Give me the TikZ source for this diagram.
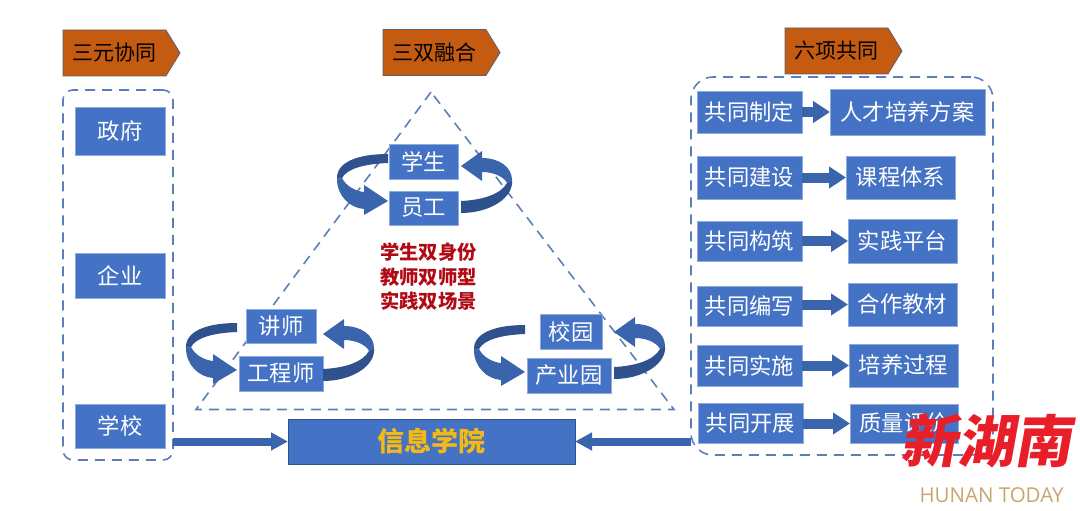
\documentclass[tikz,border=0pt]{standalone}
\usepackage{xcolor}
\usepackage{fontspec}
\usepackage{tikz}
\usetikzlibrary{calc,arrows.meta,shapes.symbols}
\setmainfont{Noto Sans CJK SC}
\newfontfamily\latinfont{Open Sans}
\definecolor{boxblue}{RGB}{68,114,196}
\definecolor{boxedge}{RGB}{143,170,220}
\definecolor{arrowblue}{RGB}{58,100,171}
\definecolor{arrowdark}{RGB}{47,82,143}
\definecolor{dashblue}{RGB}{91,127,187}
\definecolor{tagorange}{RGB}{197,90,17}
\definecolor{tagedge}{RGB}{90,95,115}
\definecolor{mottored}{RGB}{176,10,20}
\definecolor{collegegold}{RGB}{245,185,20}
\definecolor{markred}{RGB}{232,30,40}
\definecolor{marktan}{RGB}{200,165,112}
\tikzset{
    bluebox/.style={draw=boxedge, line width=0.8pt, fill=boxblue, text=white, font=\fontsize{22.3}{24}\selectfont, inner sep=0pt, outer sep=0pt},
    tagbox/.style={signal, signal to=east, signal from=nowhere, signal pointer angle=117, draw=tagedge, line width=0.8pt, fill=tagorange, text=black, font=\fontsize{21}{24}\selectfont, minimum height=46pt, minimum width=117pt, inner sep=0pt, outer sep=0pt},
    dashline/.style={draw=dashblue, line width=1.6pt, dash pattern=on 10pt off 7pt},
    rowarrow/.style={draw=arrowblue, line width=10pt, -{Triangle[length=17pt,width=21pt]}},
    bigarrow/.style={draw=arrowblue, line width=8pt, -{Triangle[length=17pt,width=17pt]}},
    swirlleft/.pic={
        \fill[arrowdark] (0,-31) .. controls (-32,-31) and (-52,-22) .. (-51,-6) -- (-46,-7) .. controls (-41,-16) and (-25,-21) .. (0,-22) -- cycle;
        \fill[arrowblue] (-51,-6) .. controls (-51,11) and (-38,23) .. (-24,24) -- (-24,30) -- (0,16) -- (-24,0) -- (-24,7) .. controls (-33,6) and (-42,1) .. (-46,-7) -- cycle;
    },
    swirlright/.pic={
        \fill[arrowdark] (0,16) .. controls (22,15) and (40,9) .. (46,-2) -- (51,-5) .. controls (53,12) and (30,28) .. (0,28) -- cycle;
        \fill[arrowblue] (21,-27) .. controls (38,-27) and (51,-18) .. (51,-5) -- (46,-2) .. controls (43,-8) and (33,-13) .. (21,-13) -- (21,-4) -- (0,-19) -- (21,-34) -- cycle;
    },
}

\begin{document}
\begin{tikzpicture}[x=1pt, y=-1pt]
    \useasboundingbox (0,0) rectangle (1080,511);

    % Dashed frames and triangle
    \node[dashline, rounded corners=10pt, minimum width=110pt, minimum height=370pt, inner sep=0pt, outer sep=0pt] (threeframe) at (118,275) {};
    \node[dashline, rounded corners=22pt, minimum width=302pt, minimum height=378pt, inner sep=0pt, outer sep=0pt] (sixframe) at (842,266) {};
    \draw[dashline] (431,92) -- (196,409.5) -- (674,409.5) -- cycle;

    % Orange headings
    \node[tagbox] (threetag) at (114.5,53) {三元协同};
    \node[tagbox] (doubletag) at (434.5,52.5) {三双融合};
    \node[tagbox] (sixtag) at (836.5,51) {六项共同};

    % Left column
    \node[bluebox, minimum width=90pt, minimum height=48pt] (gov) at (120,131) {政府};
    \node[bluebox, minimum width=90pt, minimum height=45pt] (firm) at (120,275.5) {企业};
    \node[bluebox, minimum width=90pt, minimum height=44pt] (school) at (120,426) {学校};

    % Middle pairs
    \node[bluebox, minimum width=69pt, minimum height=35pt] (student) at (423.5,161.5) {学生};
    \node[bluebox, minimum width=69pt, minimum height=34pt] (staff) at (423.5,208) {员工};
    \node[bluebox, minimum width=70pt, minimum height=34pt] (lecturer) at (281,326) {讲师};
    \node[bluebox, minimum width=84pt, minimum height=35pt] (engineer) at (281,373.5) {工程师};
    \node[bluebox, minimum width=62pt, minimum height=35pt] (campus) at (571,331.5) {校园};
    \node[bluebox, minimum width=84pt, minimum height=35pt] (park) at (569,375.5) {产业园};

    % Curved arrows round the pairs
    \pic at ($(staff.west)+(-1,-23)$) {swirlleft};
    \pic at ($(staff.east)+(3,-23)$) {swirlright};
    \pic at ($(engineer.west)+(-2,-19.5)$) {swirlleft};
    \pic at ($(engineer.east)+(0,-20.5)$) {swirlright};
    \pic at ($(park.west)+(-2,-19.5)$) {swirlleft};
    \pic at ($(park.east)+(3,-24.5)$) {swirlright};

    % Red lines in the middle
    \node[text=mottored, font=\fontsize{19.3}{24.5}\selectfont\bfseries, align=center] (motto) at (428.5,277) {学生双身份\\教师双师型\\实践双场景};

    % College
    \node[draw=arrowdark, line width=0.8pt, fill=boxblue, text=collegegold, font=\fontsize{27}{30}\selectfont\bfseries, minimum width=287pt, minimum height=45pt, inner sep=0pt, outer sep=0pt] (college) at (431.5,441.5) {信息学院};
    \draw[bigarrow] (threeframe.east |- college.west) -- (college.west);
    \draw[bigarrow] (sixframe.west |- college.east) -- (college.east);

    % Right column
    \node[bluebox, minimum width=105pt, minimum height=42pt] (plana) at (749.5,112) {共同制定};
    \node[bluebox, minimum width=155pt, minimum height=46pt] (planb) at (907.5,112) {人才培养方案};
    \node[bluebox, minimum width=105pt, minimum height=43pt] (builda) at (749.5,177.5) {共同建设};
    \node[bluebox, minimum width=109pt, minimum height=43pt] (buildb) at (900.5,177.5) {课程体系};
    \node[bluebox, minimum width=105pt, minimum height=40pt] (makea) at (749.5,241) {共同构筑};
    \node[bluebox, minimum width=109pt, minimum height=44pt] (makeb) at (902.5,241) {实践平台};
    \node[bluebox, minimum width=105pt, minimum height=40pt] (writea) at (749.5,306) {共同编写};
    \node[bluebox, minimum width=109pt, minimum height=43pt] (writeb) at (902.5,304.5) {合作教材};
    \node[bluebox, minimum width=105pt, minimum height=41pt] (runa) at (749.5,365.5) {共同实施};
    \node[bluebox, minimum width=109pt, minimum height=43pt] (runb) at (903.5,365.5) {培养过程};
    \node[bluebox, minimum width=105pt, minimum height=40pt] (evala) at (750.5,423) {共同开展};
    \node[bluebox, minimum width=108pt, minimum height=39pt] (evalb) at (904,423.5) {质量评价};
    \draw[rowarrow] (plana.east) -- (planb.west);
    \draw[rowarrow] (builda.east) -- (buildb.west);
    \draw[rowarrow] (makea.east) -- (makeb.west);
    \draw[rowarrow] (writea.east |- writeb.west) -- (writeb.west);
    \draw[rowarrow] (runa.east) -- (runb.west);
    \draw[rowarrow] (evala.east |- evalb.west) -- (evalb.west);

    % Newspaper mark
    \node[text=markred, font=\fontsize{57}{60}\selectfont\bfseries, xslant=0.18, transform shape, inner sep=0pt] (markcn) at (990,441) {新湖南};
    \node[text=marktan, font=\latinfont\fontsize{20.5}{24}\selectfont, inner sep=0pt] (marken) at (991.5,495) {HUNAN TODAY};
\end{tikzpicture}
\end{document}
